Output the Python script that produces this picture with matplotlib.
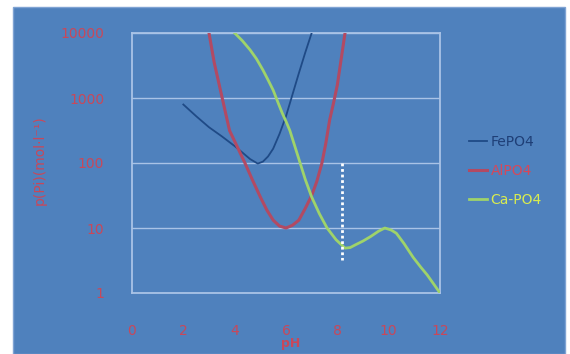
import matplotlib
matplotlib.use("Agg")
import matplotlib.pyplot as plt
from matplotlib.patches import Rectangle

# Solubility curves (concentration vs pH)
fe_ph = [2.0, 2.5, 3.0, 3.5, 4.0, 4.3, 4.6, 4.9, 5.1, 5.3, 5.5, 5.75, 6.0,
         6.25, 6.5, 6.75, 7.0]
fe_c = [794, 525, 355, 257, 182, 145, 115, 98, 105, 126, 166, 282, 525,
        1122, 2400, 5000, 10000]

al_ph = [3.0, 3.2, 3.4, 3.6, 3.8, 4.1, 4.4, 4.7, 5.0, 5.25, 5.5, 5.75, 6.0,
         6.25, 6.5, 6.75, 7.0, 7.2, 7.4, 7.55, 7.7, 7.85, 8.0, 8.15, 8.3]
al_c = [10000, 3550, 1585, 708, 316, 178, 100, 54, 30, 19, 13.2, 10.7, 10,
        11, 13.2, 20, 31.6, 52, 100, 200, 457, 832, 1585, 3980, 10000]

ca_ph = [4.0, 4.3, 4.6, 4.85, 5.1, 5.3, 5.5, 5.7, 5.85, 6.0, 6.15, 6.35, 6.55,
         6.75, 7.0, 7.3, 7.6, 7.95, 8.3, 8.5, 8.7, 9.0, 9.3, 9.6, 9.85, 10.1,
         10.3, 10.6, 10.95, 11.25, 11.5, 11.75, 12.0]
ca_c = [10000, 7600, 5500, 4000, 2700, 1900, 1320, 830, 590, 437, 316, 178,
        100, 56, 30, 16.6, 10, 6.6, 4.9, 5.0, 5.5, 6.3, 7.4, 8.9, 10, 9.3,
        8.3, 5.75, 3.55, 2.5, 1.9, 1.38, 1.0]

marker_ph = [8.2, 8.2]
marker_c = [100, 3.2]

x_ticks = [0, 2, 4, 6, 8, 10, 12]
y_ticks = [1, 10, 100, 1000, 10000]
y_tick_labels = ["1", "10", "100", "1000", "10000"]

BG = "#4f81bd"
GRID = "#a9c3e6"
RED = "#c8485a"

fig = plt.figure(figsize=(5.7, 3.54), dpi=100)
fig.patch.set_facecolor("white")
fig.add_artist(Rectangle((13 / 570, 0), 552 / 570, 347 / 354,
                         transform=fig.transFigure, facecolor=BG,
                         edgecolor="#7fa3d3", linewidth=1.0, zorder=0))

ax = fig.add_axes([132 / 570, 1 - 293 / 354, 308 / 570, 260 / 354])
ax.set_facecolor(BG)
ax.set_yscale("log")
ax.set_xlim(0, 12)
ax.set_ylim(1, 10000)

ax.plot(fe_ph, fe_c, color="#1f4a86", lw=1.3, label="FePO4", zorder=3,
        solid_joinstyle="round")
ax.plot(al_ph, al_c, color="#b24a63", lw=2.2, label="AlPO4", zorder=3,
        solid_joinstyle="round")
ax.plot(ca_ph, ca_c, color="#9fd36a", lw=2.0, label="Ca-PO4", zorder=3,
        solid_joinstyle="round")
ax.plot(marker_ph, marker_c, color="white", lw=2.0, ls=(0, (1, 1)), zorder=4)

ax.set_yticks(y_ticks)
ax.set_yticklabels(y_tick_labels)
ax.set_xticks(x_ticks)
ax.minorticks_off()
ax.tick_params(axis="both", length=0, colors=RED, labelsize=10)
ax.tick_params(axis="y", pad=20)
ax.tick_params(axis="x", pad=22)
ax.grid(axis="y", color=GRID, lw=1.0)
for s in ax.spines.values():
    s.set_color(GRID)
    s.set_linewidth(1.3)

fig.text(291 / 570, 1 - 343 / 354, "pH", color=RED, fontsize=9,
         fontweight="bold", ha="center", va="center")
fig.text(40 / 570, 1 - 160 / 354, "p(Pi)(mol·l⁻¹)", rotation=90, color=RED,
         fontsize=10, ha="center", va="center")

leg = ax.legend(loc="center left", bbox_to_anchor=(456 / 570, 1 - 171 / 354),
                bbox_transform=fig.transFigure, frameon=False, fontsize=10,
                handlelength=1.3, handletextpad=0.3, labelspacing=1.1,
                labelcolor=["#1f3f77", "#d6485a", "#d9ec50"])

fig.savefig("out.png", dpi=100)
